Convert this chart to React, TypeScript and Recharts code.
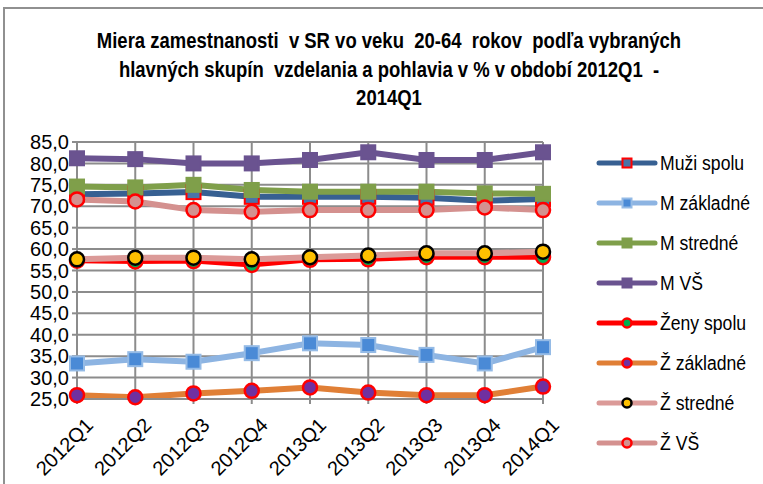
import { LineChart, Line, XAxis, YAxis, CartesianGrid } from "recharts";

const quarters = [
  "2012Q1",
  "2012Q2",
  "2012Q3",
  "2012Q4",
  "2013Q1",
  "2013Q2",
  "2013Q3",
  "2013Q4",
  "2014Q1",
];

const muziSpolu = [72.8, 73.0, 73.3, 72.2, 72.2, 72.2, 72.0, 71.3, 71.7];
const mZakladne = [33.3, 34.3, 33.7, 35.7, 38.0, 37.6, 35.3, 33.3, 37.1];
const mStredne = [74.6, 74.4, 75.0, 73.8, 73.4, 73.4, 73.4, 73.0, 72.9];
const mVS = [81.2, 81.0, 80.0, 80.0, 80.8, 82.6, 80.8, 80.8, 82.6];
const zenySpolu = [57.3, 57.1, 57.2, 56.3, 57.5, 57.6, 58.1, 58.1, 58.1];
const zZakladne = [25.9, 25.4, 26.3, 26.9, 27.7, 26.5, 25.9, 25.9, 27.9];
const zStredne = [57.6, 58.0, 58.0, 57.6, 58.1, 58.5, 59.0, 59.0, 59.4];
const zVS = [71.6, 71.1, 69.1, 68.7, 69.1, 69.1, 69.1, 69.7, 69.1];

const yTicks = [25, 30, 35, 40, 45, 50, 55, 60, 65, 70, 75, 80, 85];

const titleLines = [
  "Miera zamestnanosti  v SR vo veku  20-64  rokov  podľa vybraných",
  "hlavných skupín  vzdelania a pohlavia v % v období 2012Q1  -",
  "2014Q1",
];

type Series = {
  key: string;
  name: string;
  values: number[];
  color: string;
  width: number;
  shape: "square" | "circle";
  fill: string;
  stroke: string;
};

const series: Series[] = [
  { key: "muziSpolu", name: "Muži spolu", values: muziSpolu, color: "#376092", width: 6, shape: "square", fill: "#4a74a8", stroke: "#ff0000" },
  { key: "mZakladne", name: "M základné", values: mZakladne, color: "#8db4e2", width: 6, shape: "square", fill: "#4a8ad6", stroke: "#95bbe6" },
  { key: "mStredne", name: "M stredné", values: mStredne, color: "#7f9f4a", width: 6, shape: "square", fill: "#7f9f4a", stroke: "#7f9f4a" },
  { key: "mVS", name: "M VŠ", values: mVS, color: "#6a5390", width: 6, shape: "square", fill: "#6a5390", stroke: "#6a5390" },
  { key: "zenySpolu", name: "Ženy spolu", values: zenySpolu, color: "#ff0000", width: 5, shape: "circle", fill: "#00b050", stroke: "#ff0000" },
  { key: "zZakladne", name: "Ž základné", values: zZakladne, color: "#e07f36", width: 6, shape: "circle", fill: "#7030a0", stroke: "#ff0000" },
  { key: "zStredne", name: "Ž stredné", values: zStredne, color: "#db9a98", width: 6, shape: "circle", fill: "#ffc000", stroke: "#000000" },
  { key: "zVS", name: "Ž VŠ", values: zVS, color: "#d4918f", width: 6, shape: "circle", fill: "#d4918f", stroke: "#ff0000" },
];

const data = quarters.map((q, i) => {
  const row: Record<string, string | number> = { q };
  series.forEach((s) => {
    row[s.key] = s.values[i];
  });
  return row;
});

const tickFont = "'Liberation Sans', Arial, sans-serif";

function marker(s: Series, cx: number, cy: number, size: number, key?: string) {
  if (s.shape === "square") {
    return (
      <rect
        key={key}
        x={cx - size / 2}
        y={cy - size / 2}
        width={size}
        height={size}
        fill={s.fill}
        stroke={s.stroke}
        strokeWidth={2}
      />
    );
  }
  return (
    <circle
      key={key}
      cx={cx}
      cy={cy}
      r={size / 2}
      fill={s.fill}
      stroke={s.stroke}
      strokeWidth={2.5}
    />
  );
}

function makeDot(s: Series) {
  return (props: any) => {
    const { cx, cy, index } = props;
    return marker(s, cx, cy, 14, `${s.key}-${index}`);
  };
}

function XTick({ x, y, payload }: any) {
  return (
    <g transform={`translate(${x + 9},${y + 12})`}>
      <text
        transform="rotate(-45)"
        textAnchor="end"
        dy={12}
        fontSize={20}
        fontFamily={tickFont}
        fill="#000"
      >
        {payload.value}
      </text>
    </g>
  );
}

export default function App() {
  return (
    <div
      style={{
        position: "absolute",
        left: 0,
        top: 0,
        width: 763,
        height: 484,
        background: "#fff",
        overflow: "hidden",
      }}
    >
      <div
        style={{
          position: "absolute",
          left: 3,
          top: 7,
          right: 0,
          bottom: 0,
          borderLeft: "2px solid #909090",
          borderTop: "2px solid #909090",
        }}
      />
      <div
        style={{
          position: "absolute",
          left: 0,
          top: 27,
          width: 778,
          textAlign: "center",
          fontFamily: "'Liberation Sans', Arial, sans-serif",
          fontWeight: "bold",
          fontSize: 22,
          lineHeight: "28.5px",
          color: "#000",
          whiteSpace: "pre",
          transform: "scaleX(0.84)",
          transformOrigin: "389px 0",
        }}
      >
        {titleLines.map((t) => (
          <div key={t}>{t}</div>
        ))}
      </div>

      <LineChart
        width={763}
        height={484}
        data={data}
        margin={{ top: 142, right: 220, left: 0, bottom: 0 }}
      >
        <CartesianGrid stroke="#8c8c8c" strokeWidth={2} />
        <XAxis
          dataKey="q"
          interval={0}
          height={85}
          tick={<XTick />}
          tickSize={5}
          axisLine={{ stroke: "#8c8c8c", strokeWidth: 2 }}
          tickLine={{ stroke: "#8c8c8c", strokeWidth: 2 }}
        />
        <YAxis
          width={77}
          domain={[25, 85]}
          ticks={yTicks}
          interval={0}
          tickSize={5}
          tickMargin={3}
          tickFormatter={(v: number) => v.toFixed(1).replace(".", ",")}
          tick={{ fill: "#000", fontSize: 20, fontFamily: tickFont }}
          axisLine={{ stroke: "#8c8c8c", strokeWidth: 2 }}
          tickLine={{ stroke: "#8c8c8c", strokeWidth: 2 }}
        />
        {series.map((s) => (
          <Line
            key={s.key}
            dataKey={s.key}
            name={s.name}
            type="linear"
            stroke={s.color}
            strokeWidth={s.width}
            dot={makeDot(s)}
            activeDot={false}
            isAnimationActive={false}
          />
        ))}
      </LineChart>

      <div style={{ position: "absolute", left: 596, top: 143 }}>
        {series.map((s) => (
          <div
            key={s.key}
            style={{ display: "flex", alignItems: "center", height: 40, whiteSpace: "nowrap" }}
          >
            <svg width={62} height={16}>
              <line
                x1={3}
                y1={8}
                x2={59}
                y2={8}
                stroke={s.color}
                strokeWidth={5}
                strokeLinecap="round"
              />
              {marker(s, 31, 8, 9)}
            </svg>
            <span
              style={{
                display: "inline-block",
                fontFamily: tickFont,
                fontSize: 20,
                color: "#000",
                marginLeft: 2,
                transform: "scaleX(0.88)",
                transformOrigin: "0 50%",
              }}
            >
              {s.name}
            </span>
          </div>
        ))}
      </div>
    </div>
  );
}
